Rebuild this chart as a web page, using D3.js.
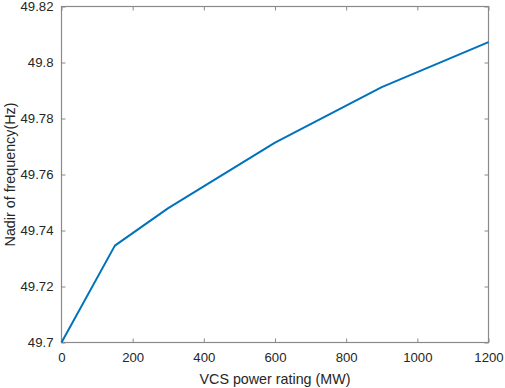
<!DOCTYPE html>
<html><head><meta charset="utf-8">
<script src="https://cdn.jsdelivr.net/npm/d3@7"></script>
<style>body{margin:0;background:#fff}svg{display:block}text{font-family:"Liberation Sans",Arial,sans-serif}</style>
</head><body><svg id="c" width="505" height="388"></svg>
<script>
const xValues = [0, 150, 300, 600, 900, 1200];
const yValues = [49.7, 49.7346, 49.748, 49.7714, 49.7912, 49.8073];
const xTicks = [0, 200, 400, 600, 800, 1000, 1200];
const yTicks = [49.7, 49.72, 49.74, 49.76, 49.78, 49.8, 49.82];
const xLabel = "VCS power rating (MW)";
const yLabel = "Nadir of frequency(Hz)";

const svg = d3.select("#c");
const L = 61.5, R = 488.5, T = 6.5, B = 342.5;
const x = d3.scaleLinear().domain([0, 1200]).range([L, R]);
const y = d3.scaleLinear().domain([49.7, 49.82]).range([B, T]);
const axisCol = "#8a8a8a", textCol = "#262626";

function styleAxis(g, hideText) {
  g.selectAll(".domain").remove();
  g.selectAll(".tick line").attr("stroke", axisCol).attr("stroke-width", 1);
  g.selectAll(".tick text").attr("fill", textCol).attr("font-size", 13.2);
  if (hideText) g.selectAll(".tick text").remove();
}
const fmt = d => String(+d.toFixed(2));
svg.append("g").attr("transform", `translate(0,${B})`)
  .call(d3.axisBottom(x).tickValues(xTicks).tickSizeInner(-4).tickSizeOuter(0).tickPadding(10).tickFormat(d3.format("d")))
  .call(g => styleAxis(g, false));
svg.append("g").attr("transform", `translate(0,${T})`)
  .call(d3.axisTop(x).tickValues(xTicks).tickSizeInner(-4).tickSizeOuter(0))
  .call(g => styleAxis(g, true));
svg.append("g").attr("transform", `translate(${L},0)`)
  .call(d3.axisLeft(y).tickValues(yTicks).tickSizeInner(-4).tickSizeOuter(0).tickPadding(8).tickFormat(fmt))
  .call(g => styleAxis(g, false));
svg.append("g").attr("transform", `translate(${R},0)`)
  .call(d3.axisRight(y).tickValues(yTicks).tickSizeInner(-4).tickSizeOuter(0))
  .call(g => styleAxis(g, true));

svg.append("rect").attr("x", L).attr("y", T).attr("width", R - L).attr("height", B - T)
  .attr("fill", "none").attr("stroke", axisCol).attr("stroke-width", 1.2);

const pts = xValues.map((v, i) => [v, yValues[i]]);
svg.append("path").datum(pts)
  .attr("fill", "none").attr("stroke", "#0072BD").attr("stroke-width", 2)
  .attr("stroke-linejoin", "round")
  .attr("d", d3.line().x(d => x(d[0])).y(d => y(d[1])));

svg.append("text").attr("x", (L + R) / 2).attr("y", 384).attr("text-anchor", "middle")
  .attr("fill", textCol).attr("font-size", 14.3).text(xLabel);
svg.append("text").attr("transform", `translate(15,${(T + B) / 2}) rotate(-90)`)
  .attr("text-anchor", "middle").attr("fill", textCol).attr("font-size", 14.3).text(yLabel);
</script></body></html>
